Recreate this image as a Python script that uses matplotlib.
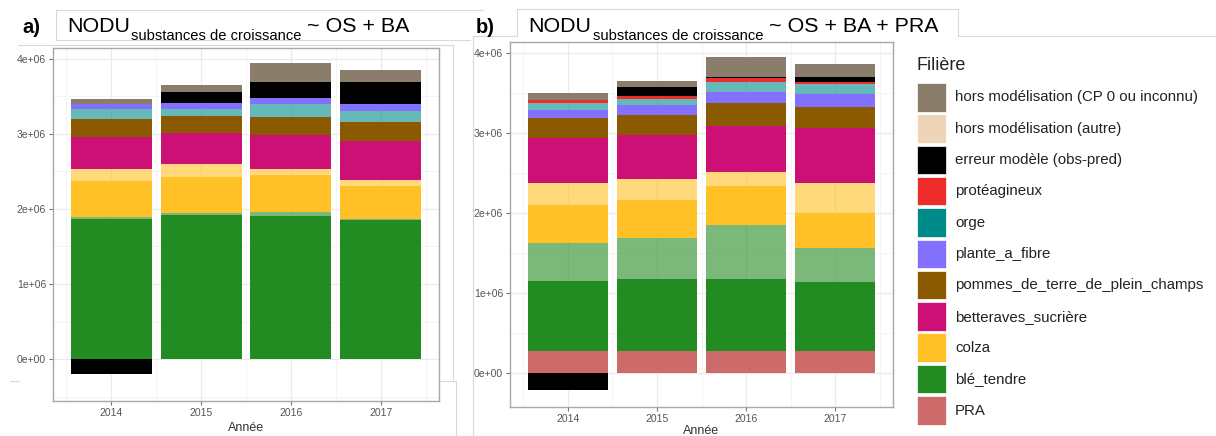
import matplotlib
matplotlib.use("Agg")
import matplotlib.pyplot as plt
from matplotlib.patches import Rectangle
from matplotlib.lines import Line2D
from matplotlib.ticker import FuncFormatter, MultipleLocator
import numpy as np

plt.rcParams['font.family'] = ['Liberation Sans', 'DejaVu Sans']

## Données (en millions)
annees = [2014, 2015, 2016, 2017]

# panneau a) ~ OS + BA
a_ble_os = [1.860, 1.920, 1.907, 1.854]
a_ble_ba = [0.035, 0.031, 0.058, 0.017]
a_colza_os = [0.482, 0.470, 0.487, 0.439]
a_colza_ba = [0.155, 0.173, 0.080, 0.076]
a_betteraves = [0.430, 0.413, 0.448, 0.519]
a_pommes = [0.235, 0.230, 0.238, 0.257]
a_orge = [0.133, 0.093, 0.177, 0.146]
a_plante = [0.063, 0.076, 0.076, 0.089]
a_erreur = [-0.200, 0.155, 0.222, 0.288]
a_cp0 = [0.070, 0.089, 0.244, 0.164]

# panneau b) ~ OS + BA + PRA
b_pra = [0.275, 0.275, 0.275, 0.275]
b_ble_os = [0.871, 0.900, 0.892, 0.858]
b_ble_ba = [0.471, 0.513, 0.679, 0.421]
b_colza_os = [0.479, 0.470, 0.492, 0.446]
b_colza_ba = [0.275, 0.263, 0.175, 0.371]
b_betteraves = [0.558, 0.550, 0.575, 0.684]
b_pommes = [0.259, 0.250, 0.279, 0.270]
b_plante = [0.096, 0.125, 0.138, 0.155]
b_orge = [0.091, 0.079, 0.133, 0.125]
b_proteag = [0.034, 0.034, 0.042, 0.025]
b_erreur = [-0.217, 0.108, 0.020, 0.063]
b_cp0 = [0.084, 0.083, 0.243, 0.162]

filieres = ['hors modélisation (CP 0 ou inconnu)', 'hors modélisation (autre)',
            'erreur modèle (obs-pred)', 'protéagineux', 'orge', 'plante_a_fibre',
            'pommes_de_terre_de_plein_champs', 'betteraves_sucrière', 'colza',
            'blé_tendre', 'PRA']
couleurs = ['#8B7D6B', '#EED5B7', '#000000', '#EE2C2C', '#008B8B', '#8470FF',
            '#8B5A00', '#CD1076', '#FFC125', '#228B22', '#CD6A6A']
coul = dict(zip(filieres, couleurs))

W, H = 1216, 436
fig = plt.figure(figsize=(W / 100, H / 100), dpi=100)


def px(x, y):
    return x / W, 1 - y / H


def ligne(x0, y0, x1, y1, c='#d9d9d9'):
    (a0, b0), (a1, b1) = px(x0, y0), px(x1, y1)
    fig.add_artist(Line2D([a0, a1], [b0, b1], color=c, lw=0.8, transform=fig.transFigure))


def empile(ax, couches):
    bas_pos = np.zeros(len(annees))
    bas_neg = np.zeros(len(annees))
    for vals, c, alpha in couches:
        v = np.array(vals) * 1e6
        bas = np.where(v >= 0, bas_pos, bas_neg)
        ax.bar(annees, v, bottom=bas, width=0.9, color=c, alpha=alpha, linewidth=0)
        bas_pos = bas_pos + np.where(v >= 0, v, 0)
        bas_neg = bas_neg + np.where(v < 0, v, 0)


def habille(ax, ylim, pad_label):
    ax.set_xlim(2013.35, 2017.65)
    ax.set_ylim(*ylim)
    ax.set_xticks(annees)
    ax.xaxis.set_minor_locator(MultipleLocator(0.5))
    ax.yaxis.set_major_locator(MultipleLocator(1e6))
    ax.yaxis.set_minor_locator(MultipleLocator(0.5e6))
    ax.yaxis.set_major_formatter(FuncFormatter(lambda v, p: f"{v:.0e}"))
    ax.grid(which='major', color='#EBEBEB', lw=0.9)
    ax.grid(which='minor', color='#F2F2F2', lw=0.6)
    ax.set_axisbelow(True)
    ax.tick_params(which='major', length=3, color='#777777', labelsize=7.5,
                   labelcolor='#555555', pad=2)
    ax.tick_params(which='minor', length=0)
    for s in ax.spines.values():
        s.set_color('#A8A8A8')
        s.set_linewidth(1)
    ax.set_xlabel('Année', fontsize=9, color='#333333', labelpad=pad_label)


## Panneau a
l, t = px(53, 48)
r, b = px(439, 401)
ax1 = fig.add_axes([l, b, r - l, t - b])
empile(ax1, [
    (a_ble_os, coul['blé_tendre'], 1), (a_ble_ba, coul['blé_tendre'], 0.6),
    (a_colza_os, coul['colza'], 1), (a_colza_ba, coul['colza'], 0.6),
    (a_betteraves, coul['betteraves_sucrière'], 1),
    (a_pommes, coul['pommes_de_terre_de_plein_champs'], 1),
    (a_orge, coul['orge'], 0.6), (a_plante, coul['plante_a_fibre'], 1),
    (a_erreur, coul['erreur modèle (obs-pred)'], 1),
    (a_cp0, coul['hors modélisation (CP 0 ou inconnu)'], 1),
])
habille(ax1, (-0.555e6, 4.14e6), 3)

## Panneau b
l, t = px(510, 42)
r, b = px(893, 407)
ax2 = fig.add_axes([l, b, r - l, t - b])
empile(ax2, [
    (b_pra, coul['PRA'], 1),
    (b_ble_os, coul['blé_tendre'], 1), (b_ble_ba, coul['blé_tendre'], 0.6),
    (b_colza_os, coul['colza'], 1), (b_colza_ba, coul['colza'], 0.6),
    (b_betteraves, coul['betteraves_sucrière'], 1),
    (b_pommes, coul['pommes_de_terre_de_plein_champs'], 1),
    (b_plante, coul['plante_a_fibre'], 1), (b_orge, coul['orge'], 0.6),
    (b_proteag, coul['protéagineux'], 1),
    (b_erreur, coul['erreur modèle (obs-pred)'], 1),
    (b_cp0, coul['hors modélisation (CP 0 ou inconnu)'], 1),
])
habille(ax2, (-0.43e6, 4.134e6), 0.5)

## Titres
fig.text(*px(22, 33), 'a)', fontsize=14.5, fontweight='bold', va='baseline')
fig.text(*px(67, 32), 'NODU', fontsize=15.4, va='baseline')
fig.text(*px(131, 39.5), 'substances de croissance', fontsize=10.6, va='baseline')
fig.text(*px(307, 32), '~ OS + BA', fontsize=15.4, va='baseline')

fig.text(*px(476, 33), 'b)', fontsize=14.5, fontweight='bold', va='baseline')
fig.text(*px(528, 32), 'NODU', fontsize=15.4, va='baseline')
fig.text(*px(593, 40), 'substances de croissance', fontsize=10.6, va='baseline')
fig.text(*px(769, 32), '~ OS + BA + PRA', fontsize=15.4, va='baseline')

# cadres des titres et bords des captures
ligne(56, 10, 483, 10)
ligne(56, 10, 56, 40)
ligne(56, 40, 470, 40)
ligne(517, 9, 958, 9)
ligne(517, 9, 517, 36)
ligne(958, 9, 958, 36)
ligne(958, 36, 1216, 36)
ligne(473, 36, 517, 36)
ligne(473, 36, 473, 436)
ligne(18, 45, 453, 45)
ligne(453, 45, 453, 381)
ligne(10, 381, 19, 381)
ligne(440, 381, 456, 381)
ligne(456, 381, 456, 436)

## Légende (dessinée à la main pour coller aux carrés de ggplot)
fig.text(*px(917, 65), 'Filière', fontsize=13, va='center', color='#222222')
for i, (nom, c) in enumerate(zip(filieres, couleurs)):
    y0 = 83 + i * 31.3
    x0, y_bas = px(917, y0 + 28.5)
    fig.add_artist(Rectangle((x0, y_bas), 28.5 / W, 28.5 / H, facecolor=c,
                             edgecolor='white', lw=0.5, transform=fig.transFigure))
    fig.text(*px(955, y0 + 14.5), nom, fontsize=10.8, va='center', color='#222222')

fig.savefig('out.png', dpi=100)
